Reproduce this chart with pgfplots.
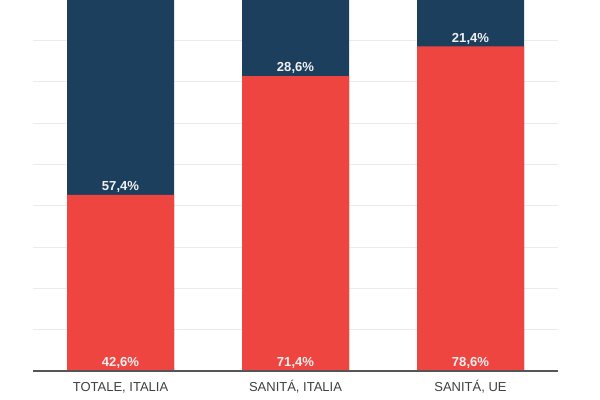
\documentclass[border=0pt]{standalone}
\usepackage{fontspec}
\setmainfont{Liberation Sans}
\usepackage{pgfplots}
\usepackage{pgfplotstable}
\pgfplotsset{compat=1.18}

\definecolor{barred}{HTML}{EF4541}
\definecolor{barblue}{HTML}{1C3F5E}
\definecolor{gridgray}{HTML}{EBEBEB}
\definecolor{axisgray}{HTML}{555555}
\definecolor{labelgray}{HTML}{3F3F3F}

% share of each group, in percent
\pgfplotstableread{
x zero red  blue
0 0    42.6 57.4
1 0    71.4 28.6
2 0    78.6 21.4
}\shares

\begin{document}
\begin{tikzpicture}
\begin{axis}[
    name=ax, at={(0,0)}, anchor=south west,
    scale only axis, width=393.75pt, height=278.25pt,
    ybar, bar shift=0pt, bar width=80.25pt,
    xmin=-0.5, xmax=2.5, ymin=0, ymax=89.8,
    xtick={0,1,2},
    xticklabels={{TOTALE, ITALIA},{SANITÁ, ITALIA},{SANITÁ, UE}},
    ytick={0,10,...,80}, yticklabels={},
    ymajorgrids=true,
    grid style={gridgray, line width=0.75pt},
    axis line style={draw=none},
    tick style={draw=none},
    xticklabel style={font=\fontsize{9.75}{11}\selectfont, text=labelgray,
        text height=7pt, text depth=0pt, yshift=-0.5pt},
    /pgf/number format/assume math mode=true,
    /pgf/number format/use comma,
    /pgf/number format/fixed,
    /pgf/number format/fixed zerofill,
    /pgf/number format/precision=1,
    every node near coord/.append style={font=\bfseries\fontsize{9.8}{11}\selectfont,
        text=white!94!black, anchor=south, yshift=-2pt},
]
% blue part: from the top of the red part up to 100 %
\addplot[draw=none, fill=barblue]
    table[x=x, y expr=\thisrow{red}+\thisrow{blue}] {\shares};
% red part, labelled with the value of the blue part above it
\addplot[draw=none, fill=barred, point meta=explicit,
    nodes near coords={\pgfmathprintnumber{\pgfplotspointmeta}\%}]
    table[x=x, y=red, meta=blue] {\shares};
% zero-height helper: carries the labels at the foot of the bars
\addplot[draw=none, fill=none, point meta=explicit,
    nodes near coords={\pgfmathprintnumber{\pgfplotspointmeta}\%}]
    table[x=x, y=zero, meta=red] {\shares};
\end{axis}
\draw[axisgray, line width=1.5pt] (ax.south west) -- (ax.south east);
\pgfresetboundingbox
\path[use as bounding box] (-24.75pt,-21.75pt) rectangle (425.25pt,278.25pt);
\end{tikzpicture}
\end{document}
